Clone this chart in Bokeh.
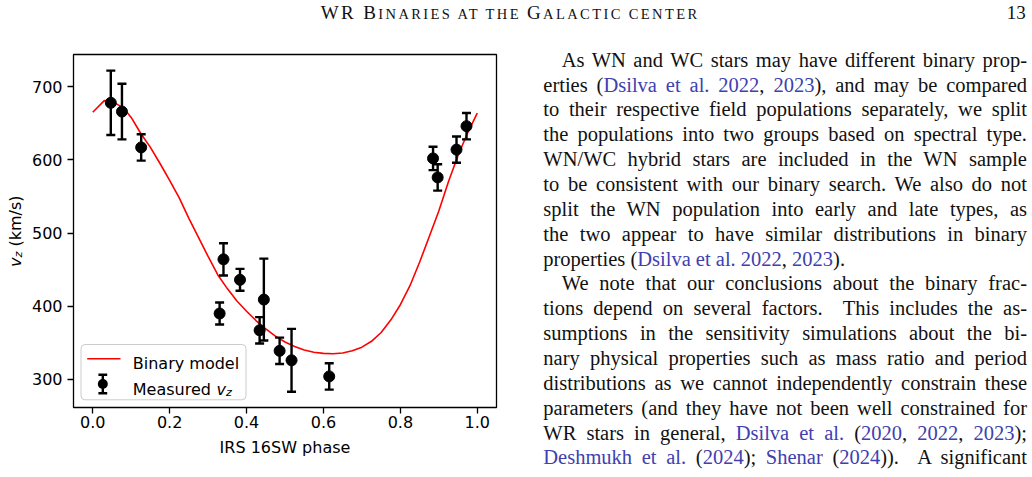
import math
from bokeh.plotting import figure
from bokeh.models import (ColumnDataSource, Whisker, TeeHead, Range1d, FixedTicker,
                          PrintfTickFormatter, Label, BoxAnnotation, Div)
from bokeh.layouts import column, row
from bokeh.embed import file_html
from bokeh.resources import INLINE

# ---------------- data ----------------
phase = [0.047, 0.076, 0.126, 0.330, 0.340, 0.383, 0.434, 0.445, 0.486, 0.517,
         0.615, 0.885, 0.897, 0.946, 0.972]
vz = [678, 666, 617, 390, 464, 436, 367, 409, 339, 326, 304, 602, 576, 614, 646]
vz_err = [44, 38, 18, 15, 22, 15, 18, 56, 18, 43, 18, 16, 18, 18, 18]

model_phase = [0.00, 0.03, 0.05, 0.08, 0.10, 0.125, 0.15, 0.175, 0.20, 0.225, 0.25,
               0.275, 0.30, 0.325, 0.35, 0.375, 0.40, 0.425, 0.45, 0.475, 0.50,
               0.525, 0.55, 0.575, 0.60, 0.625, 0.65, 0.675, 0.70, 0.725, 0.75,
               0.775, 0.80, 0.825, 0.85, 0.875, 0.90, 0.925, 0.95, 0.975, 1.00]
model_vz = [665, 681, 680, 671, 658, 636, 617, 595, 572, 548, 520,
            494, 468, 443, 424, 407, 393, 380, 369, 359, 351,
            345, 340, 337, 335.5, 335, 336, 339, 344, 352, 364,
            381, 402, 428, 460, 495, 530, 570, 606, 637, 664]

x_ticks = [0.0, 0.2, 0.4, 0.6, 0.8, 1.0]
y_ticks = [300, 400, 500, 600, 700]
x_label = "IRS 16SW phase"
y_label_parts = ["v", "z", "(km/s)"]
legend_labels = ["Binary model", "Measured", "v", "z"]

header_parts = [("WR B", False), ("inaries at the ", True), ("G", False), ("alactic center", True)]
page_number = "13"
cite = "#4040b0"
# body lines: (indent, justify, segments) ; segments = (text, is_citation)
body_lines = [
    (True, True, [("As WN and WC stars may have different binary prop-", False)]),
    (False, True, [("erties (", False), ("Dsilva et al. 2022", True), (", ", False), ("2023", True),
                   ("), and may be compared", False)]),
    (False, True, [("to their respective field populations separately, we split", False)]),
    (False, True, [("the populations into two groups based on spectral type.", False)]),
    (False, True, [("WN/WC hybrid stars are included in the WN sample", False)]),
    (False, True, [("to be consistent with our binary search. We also do not", False)]),
    (False, True, [("split the WN population into early and late types, as", False)]),
    (False, True, [("the two appear to have similar distributions in binary", False)]),
    (False, False, [("properties (", False), ("Dsilva et al. 2022", True), (", ", False), ("2023", True),
                    (").", False)]),
    (True, True, [("We note that our conclusions about the binary frac-", False)]),
    (False, True, [("tions depend on several factors.&nbsp; This includes the as-", False)]),
    (False, True, [("sumptions in the sensitivity simulations about the bi-", False)]),
    (False, True, [("nary physical properties such as mass ratio and period", False)]),
    (False, True, [("distributions as we cannot independently constrain these", False)]),
    (False, True, [("parameters (and they have not been well constrained for", False)]),
    (False, True, [("WR stars in general, ", False), ("Dsilva et al.", True), (" (", False), ("2020", True),
                   (", ", False), ("2022", True), (", ", False), ("2023", True), (");", False)]),
    (False, True, [("Deshmukh et al.", True), (" (", False), ("2024", True), ("); ", False),
                   ("Shenar", True), (" (", False), ("2024", True), (")).&nbsp; A significant", False)]),
]

FONT = "DejaVu Sans"


def lab(text, x, y, size="16px", style="normal", angle=0.0):
    return Label(x=x, y=y, x_units="screen", y_units="screen", text=text,
                 text_font=FONT, text_font_size=size, text_font_style=style,
                 text_color="black", angle=angle, text_align="left",
                 text_baseline="alphabetic")


# ---------------- narrow strip holding the rotated y-axis title ----------------
YL_W = 26
ylab = figure(width=YL_W, height=437, output_backend="svg", toolbar_location=None,
              x_range=Range1d(0, 1), y_range=Range1d(0, 1),
              x_axis_type=None, y_axis_type=None,
              min_border=0, min_border_left=0, min_border_right=0,
              min_border_top=0, min_border_bottom=0,
              background_fill_color="white", border_fill_color="white")
ylab.outline_line_color = None
ylab.grid.visible = False
# positions relative to the strip's frame (which lines up with the main frame)
ylab.add_layout(lab(y_label_parts[0], 15.0, 140.5, style="italic", angle=math.pi / 2))
ylab.add_layout(lab(y_label_parts[1], 17.5, 150.0, size="11.2px", style="italic", angle=math.pi / 2))
ylab.add_layout(lab(y_label_parts[2], 15.0, 161.0, angle=math.pi / 2))

# ---------------- main figure ----------------
p = figure(width=520 - YL_W, height=437, output_backend="svg", toolbar_location=None,
           x_range=Range1d(-0.05, 1.05), y_range=Range1d(261.5, 744),
           min_border_left=73 - YL_W, min_border_right=24, min_border_top=14,
           min_border_bottom=70,
           background_fill_color="white", border_fill_color="white")
p.outline_line_color = "black"
p.outline_line_width = 1.3
p.outline_line_alpha = 1.0
p.xgrid.visible = False
p.ygrid.visible = False

for ax in (p.xaxis[0], p.yaxis[0]):
    ax.axis_line_color = None
    ax.major_tick_out = 6
    ax.major_tick_in = 0
    ax.major_tick_line_width = 1.3
    ax.major_tick_line_color = "black"
    ax.minor_tick_line_color = None
    ax.major_label_text_font = FONT
    ax.major_label_text_font_size = "16px"
    ax.major_label_text_color = "black"

p.xaxis.ticker = FixedTicker(ticks=x_ticks)
p.xaxis.formatter = PrintfTickFormatter(format="%.1f")
p.xaxis.major_label_standoff = 2
p.xaxis.axis_label = x_label
p.xaxis.axis_label_text_font = FONT
p.xaxis.axis_label_text_font_size = "16px"
p.xaxis.axis_label_text_font_style = "normal"
p.xaxis.axis_label_text_color = "black"
p.xaxis.axis_label_standoff = 7

p.yaxis.ticker = FixedTicker(ticks=y_ticks)
p.yaxis.major_label_standoff = 5

src = ColumnDataSource(dict(phase=phase, vz=vz,
                            upper=[v + e for v, e in zip(vz, vz_err)],
                            lower=[v - e for v, e in zip(vz, vz_err)]))

p.line(model_phase, model_vz, line_color="red", line_width=1.6)
p.scatter("phase", "vz", source=src, size=11, marker="circle",
          fill_color="black", line_color="black")
wh = Whisker(source=src, base="phase", upper="upper", lower="lower", dimension="height",
             line_color="black", line_width=2.4, level="glyph",
             upper_head=TeeHead(size=9, line_color="black", line_width=2.4),
             lower_head=TeeHead(size=9, line_color="black", line_width=2.4))
p.add_layout(wh)


# legend (drawn by hand so that the error-bar symbol and v_z can be shown)
def box(l, r, b, t, **kw):
    opts = dict(left=l, right=r, bottom=b, top=t, left_units="screen", right_units="screen",
                bottom_units="screen", top_units="screen", line_color=None,
                fill_color="black", fill_alpha=1.0)
    opts.update(kw)
    return BoxAnnotation(**opts)


p.add_layout(box(7.5, 172.5, 7.7, 63, fill_color="white", fill_alpha=0.8,
                 line_color="#cccccc", line_width=1, line_alpha=1.0, line_dash="solid",
                 border_radius=4))
p.add_layout(box(13.7, 47.0, 47.9, 49.5, fill_color="red"))
p.add_layout(box(28.1, 30.5, 14.3, 32.7))
p.add_layout(box(24.9, 33.7, 31.5, 33.9))
p.add_layout(box(24.9, 33.7, 13.1, 15.5))
p.add_layout(box(24.3, 34.3, 18.5, 28.5, border_radius=5))
p.add_layout(lab(legend_labels[0], 59.3, 43.7))
p.add_layout(lab(legend_labels[1], 59.3, 17.7))
p.add_layout(lab(legend_labels[2], 142.9, 17.7, style="italic"))
p.add_layout(lab(legend_labels[3], 152.4, 15.0, size="11.2px", style="italic"))

# ---------------- page text ----------------
SERIF = "'Liberation Serif', serif"
hdr = "".join(
    f'<span style="font-size:14.5px;text-transform:uppercase;">{t}</span>' if small else t
    for t, small in header_parts)
header_html = (
    f'<div style="position:relative;width:1032px;height:40px;font-family:{SERIF};color:#111;">'
    f'<div style="position:absolute;left:320.7px;top:3.4px;font-size:19px;line-height:19px;'
    f'letter-spacing:2.4px;white-space:nowrap;">{hdr}</div>'
    f'<div style="position:absolute;left:1006.7px;top:3.4px;font-size:19px;line-height:19px;">'
    f'{page_number}</div></div>'
)
header = Div(text=header_html, width=1032, height=40, margin=0)

line_h = 24.86
parts = [f'<div style="position:relative;width:512px;height:437px;overflow:hidden;'
         f'font-family:{SERIF};font-size:20.5px;color:#111;">']
for k, (indent, justify, segs) in enumerate(body_lines):
    left = 41.7 if indent else 23.3
    width = 507.0 - left
    top = 7.65 + line_h * k
    align = "text-align:justify;text-align-last:justify;" if justify else "text-align:left;"
    inner = "".join(f'<span style="color:{cite}">{t}</span>' if c else t for t, c in segs)
    parts.append(f'<div style="position:absolute;left:{left}px;top:{top:.2f}px;width:{width}px;'
                 f'line-height:{line_h}px;{align}">{inner}</div>')
parts.append('</div>')
body = Div(text="".join(parts), width=512, height=437, margin=0)

layout = column(header, row(ylab, p, body))
open("out.html", "w").write(file_html(layout, INLINE))
